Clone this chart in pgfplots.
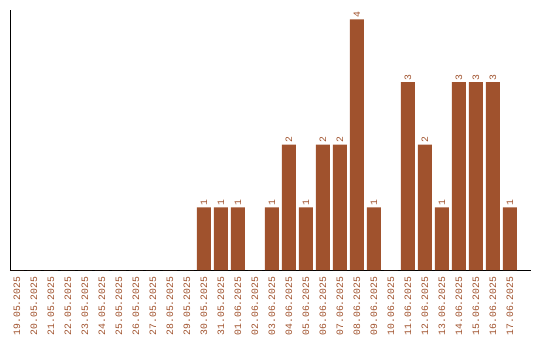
\documentclass[border=0pt]{standalone}
\usepackage{pgfplots}
\pgfplotsset{compat=1.18}
\usepackage{fontspec}
\setmainfont{Liberation Mono}
\definecolor{barc}{HTML}{A0522D}
\begin{document}
\begin{tikzpicture}
\begin{axis}[
  scale only axis,
  width=520bp, height=260bp,
  xmin=-0.38, xmax=30.21,
  ymin=0, ymax=4.15,
  axis x line*=bottom,
  axis y line*=left,
  axis line style={line width=1bp, black},
  ytick=\empty,
  xtick={0,...,29},
  xticklabels={19.05.2025,20.05.2025,21.05.2025,22.05.2025,23.05.2025,24.05.2025,25.05.2025,26.05.2025,27.05.2025,28.05.2025,29.05.2025,30.05.2025,31.05.2025,01.06.2025,02.06.2025,03.06.2025,04.06.2025,05.06.2025,06.06.2025,07.06.2025,08.06.2025,09.06.2025,10.06.2025,11.06.2025,12.06.2025,13.06.2025,14.06.2025,15.06.2025,16.06.2025,17.06.2025},
  major tick length=0pt,
  x tick label style={yshift=-6.5bp, rotate=90, anchor=east, font=\fontsize{9.8}{10}\selectfont, text=barc, inner sep=0pt},
  /pgf/number format/assume math mode=true,
  nodes near coords={\pgfmathfloatifflags{\pgfplotspointmeta}{0}{}{\pgfmathprintnumber{\pgfplotspointmeta}}},
  every node near coord/.append style={rotate=90, anchor=west, font=\fontsize{9.8}{10}\selectfont, text=barc, inner sep=1.5bp},
  clip=false,
]
\addplot[ybar, bar width=14bp, fill=barc, draw=none] coordinates {
(0,0) (1,0) (2,0) (3,0) (4,0) (5,0) (6,0) (7,0) (8,0) (9,0) (10,0)
(11,1) (12,1) (13,1) (14,0) (15,1) (16,2) (17,1) (18,2) (19,2) (20,4)
(21,1) (22,0) (23,3) (24,2) (25,1) (26,3) (27,3) (28,3) (29,1)
};
\coordinate (bl) at (rel axis cs:0,0);
\coordinate (tr) at (rel axis cs:1,1);
\end{axis}
\pgfresetboundingbox
\path ([shift={(-10.5bp,-69.5bp)}]bl) rectangle ([shift={(9.5bp,10bp)}]tr);
\end{tikzpicture}
\end{document}
